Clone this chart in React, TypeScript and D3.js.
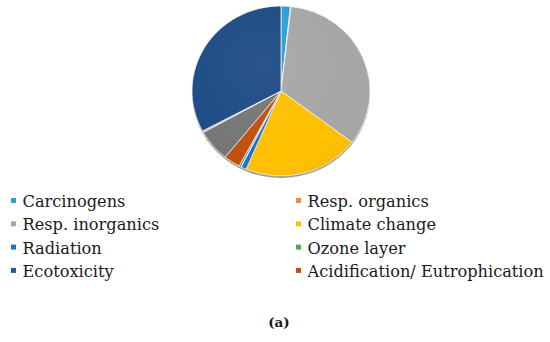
import * as d3 from 'd3';

// impact categories in pie order (clockwise from 12 o'clock)
const CATEGORIES = [
  'Carcinogens', 'Resp. organics', 'Resp. inorganics', 'Climate change',
  'Radiation', 'Ozone layer', 'Ecotoxicity', 'Acidification/ Eutrophication',
  'Land use', 'Minerals', 'Fossil fuels',
];
// share of total damage, %
const SHARES = [1.7, 0.1, 33.5, 21.1, 1.0, 0.1, 0.3, 3.0, 6.1, 0.3, 32.8];
const COLORS = [
  '#2b9fd9', '#f28a3b', '#a6a6a6', '#ffc000', '#1f73c2', '#4aac4a',
  '#1f5b93', '#c0500f', '#767676', '#c8b98a', '#1d4b85',
];
// legend lists only the first eight, row by row in two columns
const LEGEND = CATEGORIES.slice(0, 8);

const CX = 281;
const CY = 91;
const R = 89;
const SY = 0.955;

const FONT = 'DejaVu Serif';

export default function App() {
  const pie = d3.pie<number>().sort(null).value(d => d)(SHARES);
  const arc = d3.arc<d3.PieArcDatum<number>>().innerRadius(0).outerRadius(R);

  return (
    <svg width={550} height={342} style={{ display: 'block', position: 'absolute', left: 0, top: 0 }}>
      <defs>
        <radialGradient id="shade" cx="0.4" cy="0.35" r="0.75">
          <stop offset="0" stopColor="#fff" stopOpacity={0.06} />
          <stop offset="0.75" stopColor="#fff" stopOpacity={0} />
          <stop offset="1" stopColor="#000" stopOpacity={0.08} />
        </radialGradient>
      </defs>
      <rect width={550} height={342} fill="#fff" />

      <g transform={`translate(${CX}, ${CY + 2}) scale(1, ${SY})`}>
        <circle r={R} fill="#5a4a20" opacity={0.55} />
      </g>
      <g transform={`translate(${CX}, ${CY}) scale(1, ${SY})`}>
        {pie.map((p, i) => (
          <path key={i} d={arc(p) ?? ''} fill={COLORS[i]} stroke="#f2f2f2" strokeWidth={0.8} />
        ))}
        <circle r={R} fill="url(#shade)" />
      </g>

      {LEGEND.map((name, i) => {
        const col = i % 2;
        const row = Math.floor(i / 2);
        const x = col === 0 ? 11 : 296;
        const y = 207 + row * 23.3;
        return (
          <g key={name}>
            <rect x={x} y={y - 9} width={5} height={5} fill={COLORS[i]} />
            <text x={x + 11.5} y={y} fontFamily={FONT} fontSize={16.2} fill="#1a1a1a">
              {name}
            </text>
          </g>
        );
      })}

      <text x={279} y={327} textAnchor="middle" fontFamily={FONT} fontSize={13.5} fontWeight={700} fill="#1a1a1a">
        (a)
      </text>
    </svg>
  );
}
